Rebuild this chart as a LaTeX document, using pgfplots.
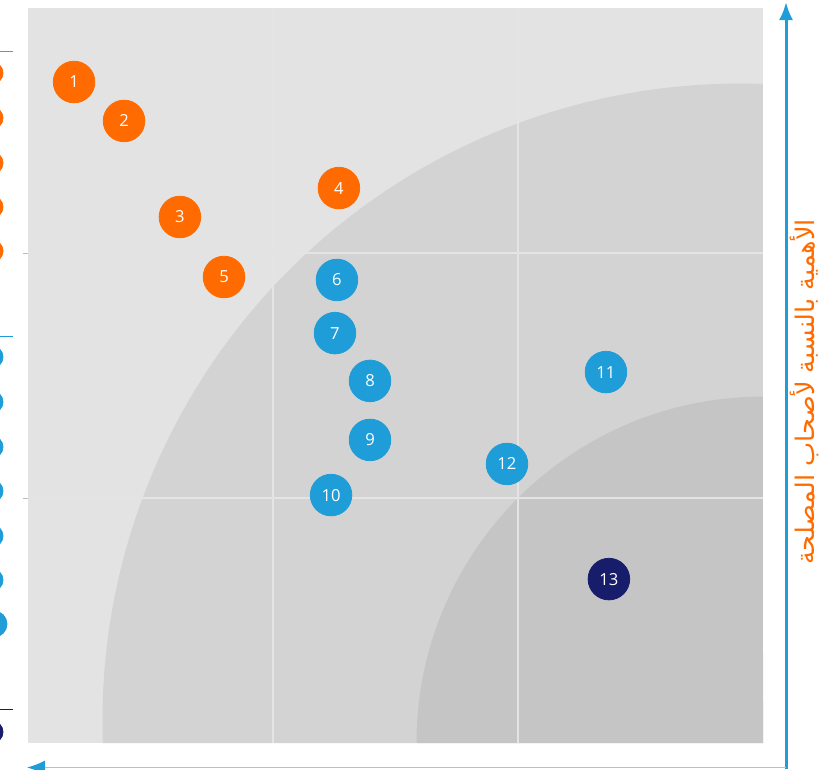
\documentclass[border=0pt]{standalone}
\usepackage{pgfplots}
\pgfplotsset{compat=1.18}
\usetikzlibrary{arrows.meta}
\usepackage{fontspec}
\setmainfont{Open Sans}
\newfontfamily\numfont{Open Sans}
\newfontfamily\arabicfont[Script=Arabic]{DejaVu Sans}
\TeXXeTstate=1

\definecolor{bgout}{HTML}{E3E3E3}
\definecolor{midg}{HTML}{D3D3D3}
\definecolor{inng}{HTML}{C4C5C4}
\definecolor{gridc}{HTML}{E4E4E4}
\definecolor{orangeA}{HTML}{FF6B00}
\definecolor{blueA}{HTML}{1E9DD8}
\definecolor{navyA}{HTML}{171C6B}
\definecolor{lineblue}{HTML}{8FCDEE}
\definecolor{tickc}{HTML}{BDBDBD}

% stakeholder items: x = impact, y = importance
\pgfplotstableread{
x     y     lab
0.188 2.698 1
0.392 2.539 2
0.620 2.147 3
1.269 2.265 4
0.800 1.902 5
}\orangepts
\pgfplotstableread{
x     y     lab
1.261 1.890 6
1.253 1.673 7
1.396 1.478 8
1.396 1.237 9
1.237 1.012 10
2.359 1.514 11
1.955 1.139 12
}\bluepts
\pgfplotstableread{
x     y     lab
2.371 0.669 13
}\navypts

\begin{document}
\begin{tikzpicture}
\begin{axis}[
  x=122.5pt, y=122.5pt,
  xmin=0, xmax=3, ymin=0, ymax=3,
  axis line style={draw=none},
  axis background/.style={fill=bgout},
  xtick=\empty, ytick={1,2}, yticklabels={}, ytick pos=left,
  tick align=outside, major tick length=2.5pt,
  y tick style={draw=tickc, line width=0.5pt},
  clip=false,
  every node near coord/.append style={anchor=center, text=white, font=\numfont\fontsize{8.3}{10}\selectfont},
]
% zones
\fill[midg] (axis cs:3,0) -- (axis cs:0.3057,0)
  arc[start angle=182.02, end angle=87.89, radius=318.5pt] -- cycle;
\fill[inng] (axis cs:3,0) -- (axis cs:1.5858,0)
  arc[start angle=180, end angle=90, radius=173.2pt] -- cycle;
% grid
\addplot[gridc, line width=0.75pt] coordinates {(1,0) (1,3)};
\addplot[gridc, line width=0.75pt] coordinates {(2,0) (2,3)};
\addplot[gridc, line width=0.75pt] coordinates {(0,1) (3,1)};
\addplot[gridc, line width=0.75pt] coordinates {(0,2) (3,2)};
% items
\addplot[only marks, mark=*, mark size=10.4pt, orangeA, nodes near coords,
  point meta=explicit symbolic] table[meta=lab] {\orangepts};
\addplot[only marks, mark=*, mark size=10.4pt, blueA, nodes near coords,
  point meta=explicit symbolic] table[meta=lab] {\bluepts};
\addplot[only marks, mark=*, mark size=10.4pt, navyA, nodes near coords,
  point meta=explicit symbolic] table[meta=lab] {\navypts};
% legend remnants cut off at the left edge
\addplot[orangeA, line width=0.5pt] coordinates {(-0.1143,2.8245) (-0.0612,2.8245)};
\addplot[only marks, mark=*, mark size=5.5pt, orangeA] coordinates {
  (-0.1469,2.7347) (-0.1469,2.5510) (-0.1469,2.3673) (-0.1469,2.1878) (-0.1469,2.0082)};
\addplot[blueA, line width=0.5pt] coordinates {(-0.1143,1.6612) (-0.0612,1.6612)};
\addplot[only marks, mark=*, mark size=5.5pt, blueA] coordinates {
  (-0.1469,1.5755) (-0.1469,1.3918) (-0.1469,1.2082) (-0.1469,1.0286) (-0.1469,0.8449) (-0.1469,0.6653)};
\addplot[only marks, mark=*, mark size=6.5pt, blueA] coordinates {(-0.1388,0.4857)};
\addplot[navyA, line width=0.5pt] coordinates {(-0.1143,0.1388) (-0.0612,0.1388)};
\addplot[only marks, mark=*, mark size=5.5pt, navyA] coordinates {(-0.1469,0.0449)};
% axes arrows
\draw[blueA, line width=1.5pt, -{Latex[length=9pt,width=7pt]}]
  (axis cs:3.0939,-0.1061) -- (axis cs:3.0939,3.0245);
\draw[lineblue, line width=0.6pt, {Latex[length=9pt,width=7pt,color=blueA]}-]
  (axis cs:-0.004,-0.1) -- (axis cs:3.0939,-0.1);
\node[rotate=90, text=orangeA, inner sep=0pt, font=\arabicfont\fontsize{12.8}{14}\selectfont]
  at (axis cs:3.168,1.433) {\beginR الأهمية بالنسبة لأصحاب المصلحة\endR};
\coordinate (bl) at (axis cs:-0.1143,-0.1061);
\coordinate (tr) at (axis cs:3.2367,3.0327);
\end{axis}
\pgfresetboundingbox
\path[use as bounding box] (bl) rectangle (tr);
\end{tikzpicture}
\end{document}
